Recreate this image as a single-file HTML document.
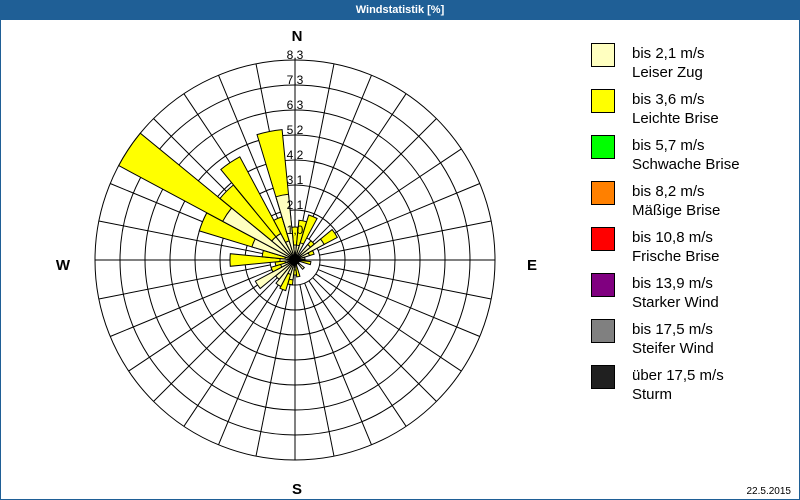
<!DOCTYPE html>
<html><head><meta charset="utf-8"><style>
body{margin:0;background:#fff;}
#f{position:relative;width:798px;height:479px;border:1px solid #1f5f96;border-top:none;margin-top:20px;background:#fff;font-family:"Liberation Sans",sans-serif;}
#t{position:absolute;left:0;top:0;width:800px;height:20px;background:#1f5f96;color:#fff;font:bold 11px "Liberation Sans",sans-serif;text-align:center;line-height:20px;}
svg{position:absolute;left:0;top:0;}
.lg{position:absolute;left:631px;font-size:15px;line-height:19px;color:#000;}
.sq{position:absolute;left:590px;width:22px;height:22px;border:1px solid #000;}
</style></head><body>
<div id="t">Windstatistik [%]</div>
<div id="f">
<svg width="800" height="480" viewBox="0 20 800 480" id="s">
<g id="g"></g>
<g font-family="Liberation Sans,sans-serif" font-size="12" fill="#000" text-anchor="middle">
<text x="294" y="234">1,0</text><text x="294" y="209">2,1</text><text x="294" y="184">3,1</text><text x="294" y="159">4,2</text>
<text x="294" y="134">5,2</text><text x="294" y="109">6,3</text><text x="294" y="84">7,3</text><text x="294" y="59">8,3</text>
</g>
<g font-family="Liberation Sans,sans-serif" font-size="15" font-weight="bold" text-anchor="middle">
<text x="296" y="41">N</text><text x="62" y="270">W</text><text x="531" y="270">E</text><text x="296" y="494">S</text>
</g>
<text x="790" y="494" font-family="Liberation Sans,sans-serif" font-size="10" text-anchor="end">22.5.2015</text>
</svg>
<div class="sq" style="top:23px;background:#ffffc0"></div><div class="lg" style="top:24px">bis 2,1 m/s<br>Leiser Zug</div>
<div class="sq" style="top:69px;background:#ffff00"></div><div class="lg" style="top:70px">bis 3,6 m/s<br>Leichte Brise</div>
<div class="sq" style="top:115px;background:#00ff00"></div><div class="lg" style="top:116px">bis 5,7 m/s<br>Schwache Brise</div>
<div class="sq" style="top:161px;background:#ff8000"></div><div class="lg" style="top:162px">bis 8,2 m/s<br>Mäßige Brise</div>
<div class="sq" style="top:207px;background:#ff0000"></div><div class="lg" style="top:208px">bis 10,8 m/s<br>Frische Brise</div>
<div class="sq" style="top:253px;background:#800080"></div><div class="lg" style="top:254px">bis 13,9 m/s<br>Starker Wind</div>
<div class="sq" style="top:299px;background:#808080"></div><div class="lg" style="top:300px">bis 17,5 m/s<br>Steifer Wind</div>
<div class="sq" style="top:345px;background:#202020"></div><div class="lg" style="top:346px">über 17,5 m/s<br>Sturm</div>
</div>
<script>
var cx=294,cy=260,g=document.getElementById('g'),h='';
function P(a,r){var t=a*Math.PI/180;return [(cx+r*Math.sin(t)).toFixed(1),(cy-r*Math.cos(t)).toFixed(1)];}
for(var i=1;i<=8;i++)h+='<circle cx="'+cx+'" cy="'+cy+'" r="'+(i*25)+'" fill="none" stroke="#000" stroke-width="1"/>';
for(var k=0;k<32;k++){var a=k*11.25;if(a%90==0)continue;var p=P(a,25),q=P(a,200);h+='<line x1="'+p[0]+'" y1="'+p[1]+'" x2="'+q[0]+'" y2="'+q[1]+'" stroke="#000"/>';}
h+='<line x1="94" y1="260" x2="494" y2="260" stroke="#000"/><line x1="294" y1="58" x2="294" y2="460" stroke="#000"/>';
var B=[[0,15,33],[11.25,15,40],[22.5,18,47],[45,20,25],[56.25,33,48],[67.5,15,20],[78.75,10,10],[101.25,5,16],[135,12,12],[168.75,5,17],[180,10,15],[191.25,20,25],[202.5,15,32],[213.75,30,30],[225,25,25],[236.25,45,45],[247.5,15,25],[258.75,10,20],[270,15,65],[281.25,10,33],[292.5,45,100],[303.75,82,200],[315,30,97],[326.25,30,117],[337.5,20,45],[348.75,66,131]];
function W(a,r,c){var p=P(a-5.6,r),q=P(a+5.6,r);return '<path d="M'+cx+' '+cy+'L'+p[0]+' '+p[1]+'A'+r+' '+r+' 0 0 1 '+q[0]+' '+q[1]+'Z" fill="'+c+'" stroke="#000" stroke-width="1"/>';}
B.forEach(function(b){if(b[2]>b[1])h+=W(b[0],b[2],'#ffff00');h+=W(b[0],b[1],'#ffffc0');});
h+='<circle cx="'+cx+'" cy="'+cy+'" r="5" fill="#000"/>';
g.innerHTML=h;
</script>
</body></html>
